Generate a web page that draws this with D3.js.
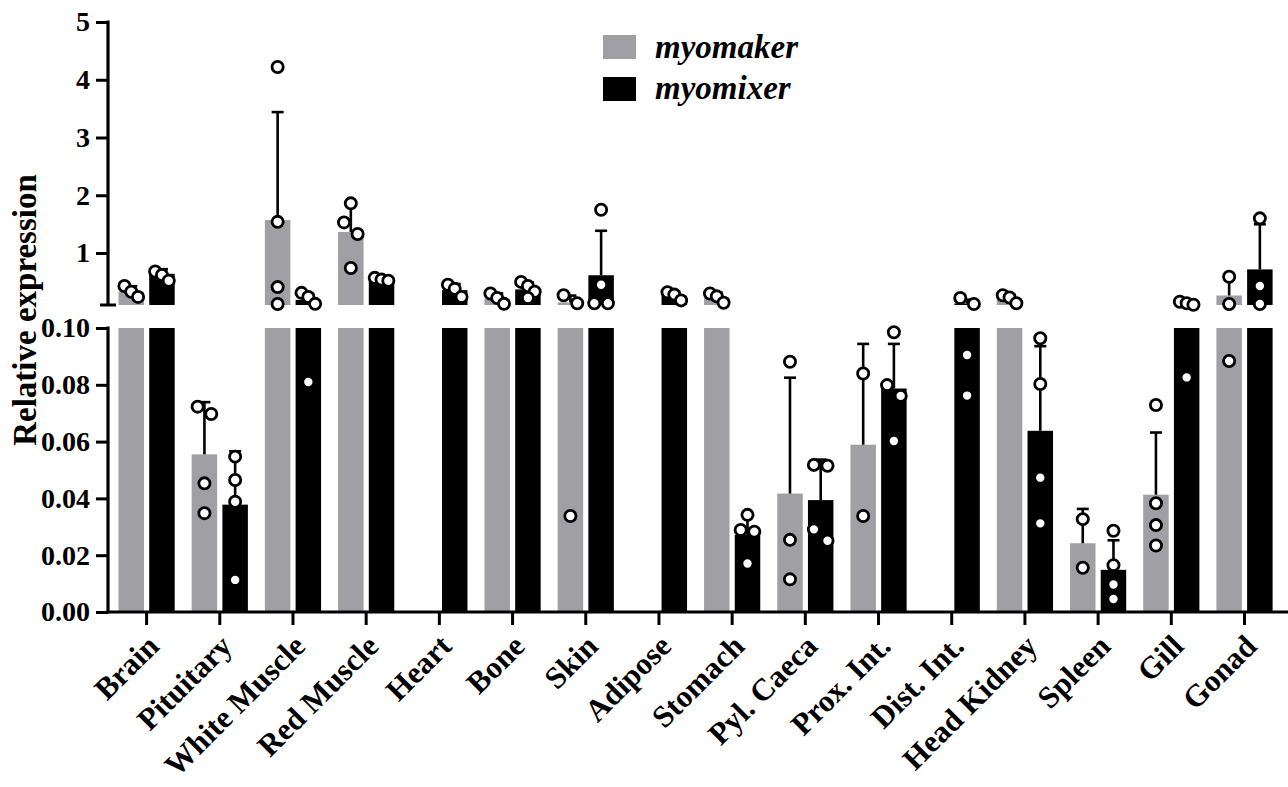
<!DOCTYPE html>
<html>
<head>
<meta charset="utf-8">
<script src="https://cdn.jsdelivr.net/npm/d3@7"></script>
<style>
  html, body { margin: 0; padding: 0; background: #fff; }
  svg { display: block; }
  text { font-family: "Liberation Serif", "Times New Roman", serif; font-weight: bold; fill: #000; }
</style>
</head>
<body>
<svg id="chart" width="1288" height="787"></svg>
<script>
// Tissues on the x axis
const categories = ["Brain", "Pituitary", "White Muscle", "Red Muscle", "Heart", "Bone", "Skin", "Adipose",
  "Stomach", "Pyl. Caeca", "Prox. Int.", "Dist. Int.", "Head Kidney", "Spleen", "Gill", "Gonad"];

const seriesNames = ["myomaker", "myomixer"];

// myomaker: mean, SD and individual replicates (null = not detected)
const makerMean = [0.33, 0.0555, 1.57, 1.365, null, 0.21, 0.145, null, 0.23, 0.0417, 0.0589, null, 0.21, 0.0242, 0.0413, 0.265];
const makerSD   = [0.095, 0.0184, 1.87, 0.47, null, 0.09, 0.118, null, 0.082, 0.0408, 0.0355, null, 0.07, 0.0121, 0.0219, 0.282];
const makerPoints = [
  [0.43, 0.33, 0.24],
  [0.0723, 0.0697, 0.0453, 0.0348],
  [4.22, 1.54, 0.41, 0.117],
  [1.86, 1.53, 1.33, 0.74],
  [],
  [0.30, 0.22, 0.12],
  [0.27, 0.13, 0.0338],
  [],
  [0.30, 0.25, 0.14],
  [0.0881, 0.0254, 0.0115],
  [0.0840, 0.0338],
  [],
  [0.27, 0.23, 0.13],
  [0.0327, 0.0156],
  [0.0729, 0.0383, 0.0306, 0.0234],
  [0.59, 0.117, 0.0884]
];

// myomixer: mean, SD and individual replicates
const mixerMean = [0.64, 0.0378, 0.188, 0.55, 0.357, 0.37, 0.615, 0.26, 0.0271, 0.0394, 0.0787, 0.126, 0.0638, 0.01485, 0.118, 0.716];
const mixerSD   = [0.08, 0.0188, 0.106, 0.03, 0.107, 0.12, 0.77, 0.072, 0.0072, 0.01426, 0.0157, 0.065, 0.0298, 0.0104, 0.032, 0.782];
const mixerPoints = [
  [0.68, 0.62, 0.52],
  [0.0547, 0.0465, 0.0388, 0.0113],
  [0.31, 0.24, 0.12, 0.081],
  [0.57, 0.54, 0.52],
  [0.45, 0.38, 0.24],
  [0.50, 0.43, 0.33, 0.22],
  [1.75, 0.45, 0.13, 0.13],
  [0.32, 0.28, 0.18],
  [0.0342, 0.0289, 0.0283, 0.0171],
  [0.0518, 0.0515, 0.0291, 0.0251],
  [0.0985, 0.0799, 0.0761, 0.0602],
  [0.22, 0.117, 0.0905, 0.0762],
  [0.0964, 0.0803, 0.0473, 0.0312],
  [0.0286, 0.0165, 0.0097, 0.0046],
  [0.157, 0.13, 0.104, 0.0826],
  [1.60, 0.43, 0.117]
];

// Axis tick values for the two segments of the broken y axis
const upperTicks = [1, 2, 3, 4, 5];
const lowerTicks = [0, 0.02, 0.04, 0.06, 0.08, 0.10];

const colors = { myomaker: "#a0a0a4", myomixer: "#000000" };

const svg = d3.select("#chart");

// ---- scales ----
const BREAK = 0.1;
const axisX = 108;
const x = d3.scaleBand().domain(categories).range([110, 1281.1]).padding(0);
const xSub = d3.scaleBand().domain(seriesNames).range([-28.1, 28.1]).paddingInner(0.17);
const yTop = d3.scaleLinear().domain([BREAK, 5]).range([305, 22]);
const yBot = d3.scaleLinear().domain([0, BREAK]).range([612, 328]);
const yPos = v => (v > BREAK ? yTop(v) : yBot(v));

const series = [
  { name: "myomaker", mean: makerMean, sd: makerSD, pts: makerPoints },
  { name: "myomixer", mean: mixerMean, sd: mixerSD, pts: mixerPoints }
];

const gBars = svg.append("g");
const gErr = svg.append("g");
const gPts = svg.append("g");

series.forEach(s => {
  categories.forEach((cat, i) => {
    const m = s.mean[i];
    if (m == null) return;
    const x0 = x(cat) + x.bandwidth() / 2 + xSub(s.name);
    const w = xSub.bandwidth();
    const cxBar = x0 + w / 2;
    // lower segment part of the bar
    gBars.append("rect")
      .attr("x", x0).attr("width", w)
      .attr("y", yBot(Math.min(m, BREAK)))
      .attr("height", yBot(0) - yBot(Math.min(m, BREAK)))
      .attr("fill", colors[s.name]);
    // upper segment part of the bar
    if (m > BREAK) {
      gBars.append("rect")
        .attr("x", x0).attr("width", w)
        .attr("y", yTop(m))
        .attr("height", yTop(BREAK) - yTop(m))
        .attr("fill", colors[s.name]);
    }
    // upward SD error bar
    const sd = s.sd[i];
    if (sd != null) {
      const top = m + sd;
      const y1 = yPos(m), y2 = yPos(top);
      if ((m > BREAK) === (top > BREAK)) {
        gErr.append("line").attr("x1", cxBar).attr("x2", cxBar).attr("y1", y1).attr("y2", y2);
      } else {
        gErr.append("line").attr("x1", cxBar).attr("x2", cxBar).attr("y1", y1).attr("y2", yBot(BREAK));
        gErr.append("line").attr("x1", cxBar).attr("x2", cxBar).attr("y1", yTop(BREAK)).attr("y2", y2);
      }
      gErr.append("line").attr("x1", cxBar - 6).attr("x2", cxBar + 6).attr("y1", y2).attr("y2", y2);
    }
    // replicate points, spread sideways when they sit close together
    const placed = s.pts[i].map(v => ({ v, y: yPos(v) })).sort((a, b) => a.y - b.y);
    const rows = [];
    placed.forEach(p => {
      const last = rows[rows.length - 1];
      if (last && p.y - last[0].y < 13) last.push(p); else rows.push([p]);
    });
    rows.forEach(row => {
      const k = row.length;
      row.forEach((p, j) => {
        const off = k === 1 ? 0 : -6.8 + (13.6 * j) / (k - 1);
        gPts.append("circle")
          .attr("cx", cxBar + off).attr("cy", p.y).attr("r", 5.6)
          .attr("fill", "#fff").attr("stroke", "#000").attr("stroke-width", 2.8);
      });
    });
  });
});
gErr.selectAll("line").attr("stroke", "#000").attr("stroke-width", 2.6);

// ---- axes ----
function styleAxis(g) {
  g.selectAll("path.domain").attr("stroke", "#000").attr("stroke-width", 3.2);
  g.selectAll(".tick line").attr("stroke", "#000").attr("stroke-width", 3);
  g.selectAll(".tick text").style("font-family", "'Liberation Serif', serif")
    .style("font-weight", "bold").style("font-size", "28px").attr("fill", "#000");
}

const upperAxis = svg.append("g").attr("transform", `translate(${axisX},0)`)
  .call(d3.axisLeft(yTop).tickValues(upperTicks).tickFormat(d3.format("d")).tickSize(12).tickSizeOuter(0).tickPadding(6));
styleAxis(upperAxis);
upperAxis.select(".domain").attr("d", `M0,${yTop(5) - 1.5}V${yTop(BREAK)}`);
// end mark of the upper segment
svg.append("line").attr("x1", axisX - 8).attr("x2", axisX + 8)
  .attr("y1", yTop(BREAK)).attr("y2", yTop(BREAK)).attr("stroke", "#000").attr("stroke-width", 3);

const lowerAxis = svg.append("g").attr("transform", `translate(${axisX},0)`)
  .call(d3.axisLeft(yBot).tickValues(lowerTicks).tickFormat(d3.format(".2f")).tickSize(12).tickSizeOuter(0).tickPadding(6));
styleAxis(lowerAxis);
lowerAxis.select(".domain").attr("d", `M0,${yBot(BREAK) - 1.5}V${yBot(0) + 1.5}`);

const xAxis = svg.append("g").attr("transform", `translate(0,${yBot(0)})`)
  .call(d3.axisBottom(x).tickSize(13).tickSizeOuter(0).tickFormat(""));
styleAxis(xAxis);
xAxis.select(".domain").attr("d", `M${axisX - 1.5},0H1288`);

// rotated category labels
svg.append("g").selectAll("text").data(categories).join("text")
  .attr("text-anchor", "end")
  .attr("transform", d => `translate(${x(d) + x.bandwidth() / 2 + 14},${648}) rotate(-45)`)
  .style("font-size", "31px")
  .text(d => d);

// y axis title
svg.append("text")
  .attr("transform", "translate(36,310) rotate(-90)")
  .attr("text-anchor", "middle")
  .style("font-size", "33px")
  .text("Relative expression");

// ---- legend ----
const legend = svg.append("g");
seriesNames.forEach((name, i) => {
  legend.append("rect").attr("x", 603).attr("y", 35 + i * 42).attr("width", 33).attr("height", 24)
    .attr("fill", colors[name]);
  legend.append("text").attr("x", 655).attr("y", 58 + i * 41)
    .style("font-size", "33px").style("font-style", "italic")
    .text(name);
});
</script>
</body>
</html>
